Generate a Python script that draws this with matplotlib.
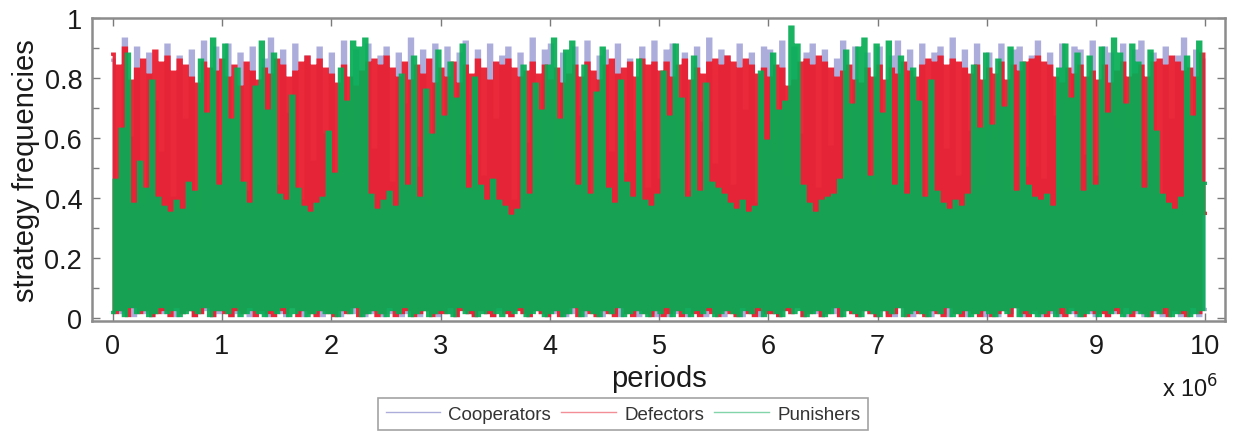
import numpy as np
import matplotlib

matplotlib.use("Agg")
import matplotlib.pyplot as plt
from matplotlib.lines import Line2D

plt.rcParams["font.family"] = ["Liberation Sans", "DejaVu Sans"]

# frequencies (in %) sampled evenly over 10^7 periods, one row per 10^6 periods
cooperators_pct = [
    86, 3, 45, 2, 93, 4, 60, 1, 90, 3, 38, 2, 88, 1, 72, 3, 55, 2, 91, 4, 40, 1, 87, 2, 66, 3, 89, 1, 35, 2, 92, 3, 58, 1, 90, 2,
    48, 3, 91, 1, 62, 2, 88, 4, 42, 1, 90, 3, 57, 2, 86, 1, 93, 3, 44, 2, 89, 1, 68, 4, 91, 2, 39, 1, 87, 3, 52, 2, 90, 1, 61, 3,
    88, 2, 47, 1, 92, 3, 63, 2, 89, 4, 41, 1, 91, 2, 56, 3, 87, 1, 90, 2, 45, 3, 88, 1, 71, 2, 93, 4, 50, 1, 89, 3, 37, 2, 91, 1,
    60, 3, 90, 2, 43, 1, 88, 4, 92, 2, 54, 1, 89, 3, 47, 2, 91, 1, 66, 3, 87, 2, 90, 1, 39, 4, 88, 2, 58, 1, 93, 3, 46, 2, 89, 1,
    91, 2, 52, 3, 88, 1, 44, 2, 90, 4, 67, 1, 92, 3, 40, 2, 87, 1, 89, 3, 55, 2, 91, 1, 48, 4, 86, 2, 62, 1, 90, 3, 43, 2, 92, 1,
    46, 3, 89, 1, 91, 2, 58, 4, 88, 1, 42, 3, 90, 2, 65, 1, 93, 3, 51, 2, 89, 1, 87, 4, 44, 2, 91, 1, 69, 3, 88, 2, 38, 1, 90, 3,
    89, 2, 55, 1, 92, 3, 47, 2, 90, 4, 61, 1, 88, 3, 91, 2, 43, 1, 89, 3, 57, 2, 86, 1, 92, 4, 49, 2, 90, 1, 64, 3, 88, 2, 41, 1,
    90, 3, 53, 2, 87, 1, 92, 4, 45, 2, 89, 1, 68, 3, 91, 2, 40, 1, 88, 3, 90, 2, 56, 1, 93, 4, 47, 2, 89, 1, 62, 3, 91, 2, 44, 1,
    88, 2, 59, 1, 91, 3, 42, 2, 89, 4, 90, 1, 50, 3, 87, 2, 92, 1, 46, 3, 88, 2, 67, 1, 91, 4, 43, 2, 90, 1, 89, 3, 54, 2, 92, 1,
    47, 3, 90, 1, 88, 2, 63, 4, 91, 1, 45, 3, 89, 2, 92, 1, 52, 3, 88, 2, 41, 1, 90, 4, 66, 2, 87, 1, 93, 3, 48, 2, 89, 1, 86, 3,
]
defectors_pct = [
    88, 2, 84, 3, 90, 1, 79, 4, 83, 2, 86, 3, 81, 1, 89, 2, 85, 3, 87, 1, 82, 4, 86, 2, 84, 3, 80, 1, 78, 2, 85, 4, 83, 1, 82, 3,
    86, 2, 80, 1, 84, 3, 77, 2, 85, 4, 82, 1, 79, 3, 83, 2, 81, 1, 86, 3, 84, 2, 80, 4, 82, 1, 85, 3, 87, 2, 84, 1, 86, 3, 83, 2,
    81, 1, 78, 3, 84, 2, 80, 4, 77, 1, 82, 2, 85, 3, 86, 1, 84, 2, 87, 4, 83, 1, 80, 2, 85, 3, 79, 1, 84, 2, 81, 3, 86, 1, 78, 2,
    83, 2, 80, 4, 85, 1, 78, 3, 84, 2, 81, 1, 86, 3, 83, 2, 79, 1, 85, 4, 84, 2, 86, 1, 83, 3, 80, 2, 82, 1, 85, 3, 81, 2, 84, 1,
    79, 3, 83, 1, 78, 2, 81, 4, 84, 1, 80, 3, 85, 2, 82, 1, 79, 3, 84, 2, 86, 1, 81, 4, 83, 2, 85, 1, 80, 3, 86, 2, 84, 1, 85, 3,
    82, 1, 85, 2, 80, 3, 84, 1, 86, 4, 79, 2, 83, 1, 81, 3, 85, 2, 86, 1, 84, 3, 87, 2, 85, 1, 83, 4, 86, 2, 84, 1, 81, 3, 83, 2,
    80, 2, 84, 1, 83, 3, 77, 2, 79, 4, 85, 1, 86, 2, 84, 3, 87, 1, 85, 2, 83, 4, 80, 1, 82, 3, 84, 2, 79, 1, 78, 3, 83, 2, 80, 1,
    84, 3, 79, 1, 83, 2, 81, 4, 85, 1, 82, 3, 80, 2, 84, 1, 86, 3, 85, 2, 87, 1, 84, 4, 86, 2, 85, 1, 83, 3, 81, 2, 84, 1, 79, 3,
    83, 1, 81, 2, 85, 3, 79, 1, 84, 4, 82, 2, 85, 1, 86, 3, 87, 2, 85, 1, 84, 3, 80, 2, 78, 1, 83, 4, 81, 2, 84, 1, 80, 3, 82, 2,
    79, 2, 84, 1, 78, 3, 82, 2, 85, 4, 80, 1, 81, 3, 84, 2, 80, 1, 85, 3, 86, 2, 84, 1, 87, 3, 85, 2, 82, 1, 83, 4, 80, 2, 88, 35,
]
punishers_pct = [
    2, 46, 3, 63, 1, 88, 4, 38, 2, 52, 3, 43, 1, 79, 2, 40, 4, 37, 2, 35, 3, 39, 1, 36, 2, 45, 3, 42, 2, 86, 4, 68, 1, 93, 3, 44,
    3, 91, 2, 66, 4, 83, 1, 45, 2, 38, 3, 77, 2, 92, 1, 69, 3, 88, 2, 41, 4, 39, 1, 74, 2, 43, 3, 37, 1, 35, 2, 38, 3, 40, 2, 62,
    2, 48, 1, 83, 3, 72, 2, 92, 4, 90, 1, 93, 2, 41, 3, 36, 2, 39, 1, 42, 3, 37, 2, 81, 4, 44, 1, 87, 2, 40, 3, 76, 1, 61, 2, 89,
    3, 67, 2, 85, 1, 73, 4, 91, 2, 43, 3, 80, 1, 44, 2, 39, 3, 46, 2, 39, 1, 37, 3, 34, 2, 36, 4, 84, 1, 41, 2, 78, 3, 69, 1, 84,
    2, 93, 3, 66, 1, 89, 2, 92, 4, 44, 1, 84, 3, 41, 2, 75, 1, 90, 3, 43, 2, 38, 4, 79, 1, 45, 2, 40, 3, 86, 2, 39, 1, 37, 3, 41,
    2, 82, 4, 67, 1, 91, 3, 73, 2, 40, 1, 87, 3, 42, 2, 78, 4, 45, 1, 43, 2, 41, 3, 38, 2, 36, 1, 39, 3, 35, 2, 37, 4, 82, 1, 59,
    3, 88, 2, 69, 1, 72, 4, 97, 2, 91, 3, 44, 1, 38, 2, 35, 3, 39, 1, 40, 2, 41, 4, 46, 1, 89, 3, 71, 2, 90, 1, 93, 3, 47, 2, 91,
    1, 68, 3, 92, 2, 44, 4, 87, 1, 41, 2, 83, 3, 72, 2, 40, 1, 79, 3, 42, 2, 38, 4, 36, 1, 39, 2, 37, 3, 41, 1, 84, 2, 63, 3, 88,
    2, 64, 1, 86, 3, 70, 2, 90, 4, 42, 1, 85, 3, 44, 2, 40, 1, 39, 2, 41, 3, 37, 1, 83, 4, 91, 2, 73, 3, 88, 1, 42, 2, 87, 3, 44,
    1, 90, 3, 68, 2, 93, 4, 88, 1, 71, 2, 91, 3, 85, 2, 43, 1, 89, 3, 62, 2, 41, 4, 38, 1, 36, 2, 40, 3, 87, 1, 67, 2, 92, 3, 45,
]
series_names = ["Cooperators", "Defectors", "Punishers"]
x_tick_values = list(range(0, 11))
y_tick_labels = ["0", "0.2", "0.4", "0.6", "0.8", "1"]

colors = ["#5c5cb8", "#e91d2f", "#05ad55"]
alphas = [0.5, 0.95, 0.92]

periods = np.linspace(0, 1e7, len(punishers_pct))

fig = plt.figure(figsize=(12.36, 4.35), dpi=100)
ax = fig.add_axes([0.0744, 0.26, 0.9167, 0.696])

# the series swing so fast that each sample shows up as a vertical stripe
for vals, col, a, name in zip([cooperators_pct, defectors_pct, punishers_pct], colors, alphas, series_names):
    ax.plot(periods, np.array(vals) / 100.0, color=col, lw=2.4, alpha=a,
            drawstyle="steps-mid", solid_joinstyle="miter", snap=False, label=name)

ax.set_xlim(-0.19e6, 10.18e6)
ax.set_ylim(-0.008, 1.0)
ax.set_xticks([v * 1e6 for v in x_tick_values])
ax.set_xticklabels([str(v) for v in x_tick_values])
ax.set_yticks([0, 0.2, 0.4, 0.6, 0.8, 1.0])
ax.set_yticklabels(y_tick_labels)
ax.set_yticks(np.arange(0.1, 1.0, 0.2), minor=True)

for sp in ax.spines.values():
    sp.set_color("#8c8c8c")
    sp.set_linewidth(1.8)
ax.tick_params(axis="both", which="both", direction="in", color="#7a7a7a",
               top=True, right=True, width=1.0)
ax.tick_params(axis="both", which="major", length=6, labelsize=19.5,
               labelcolor="#1a1a1a")
ax.tick_params(axis="x", which="major", pad=9)
ax.tick_params(axis="y", which="major", pad=7)
ax.tick_params(axis="y", which="minor", length=5)

ax.set_xlabel("periods", fontsize=21, color="#1a1a1a", labelpad=3)
ax.set_ylabel("strategy frequencies", fontsize=21, color="#1a1a1a", labelpad=3)
fig.text(0.963, 0.105, r"x 10$^{6}$", fontsize=17, color="#1a1a1a", ha="center", va="center")

handles = [Line2D([], [], color=c, lw=1.0, alpha=0.5) for c in colors]
leg = fig.legend(handles, series_names, loc="center", bbox_to_anchor=(0.504, 0.045),
                 ncol=3, fontsize=13.5, frameon=True, fancybox=False,
                 handlelength=2.9, handletextpad=0.45, columnspacing=0.55,
                 borderpad=0.4, borderaxespad=0)
leg.get_frame().set_edgecolor("#8c8c8c")
leg.get_frame().set_linewidth(1.2)
for t in leg.get_texts():
    t.set_color("#333333")

fig.savefig("out.png", dpi=100)
